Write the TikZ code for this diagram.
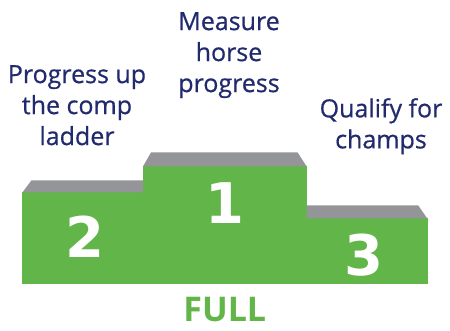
\documentclass[tikz,border=0pt]{standalone}
\usepackage{fontspec}
\setmainfont{Open Sans}
\newfontfamily\goalfont[FakeBold=0.6]{Open Sans}
\newfontfamily\digitfont{DejaVu Sans}
\usepackage{tikz}
\usetikzlibrary{positioning}
\definecolor{podiumgreen}{HTML}{62B548}
\definecolor{podiumgrey}{HTML}{939598}
\definecolor{labelnavy}{HTML}{222A6E}

\begin{document}
\begin{tikzpicture}[x=1pt, y=1pt,
podium/.style={rectangle, fill=podiumgreen, draw=podiumgreen, line width=0.6pt, inner sep=0pt, anchor=south west},
topface/.style={fill=podiumgrey},
placenum/.style={text=white, font=\digitfont\bfseries\fontsize{56}{56}\selectfont},
goal/.style={text=labelnavy, align=center, inner sep=0pt, anchor=north, font=\goalfont\fontsize{25}{31}\selectfont},
]
\useasboundingbox (0,0) rectangle (450,330);

%Nodes
\node[podium, minimum width=163pt, minimum height=117pt] (first) at (143,46) {};
\node[podium, minimum width=120pt, minimum height=91pt, anchor=south east] (second) at (first.south west) {};
\node[podium, minimum width=120pt, minimum height=65pt] (third) at (first.south east) {};

%Tops
\fill[topface] (second.north west) -- ++(9,12) -- ([yshift=12pt]second.north east) -- (second.north east) -- cycle;
\fill[topface] (first.north west) -- ++(8,14) -- ([xshift=-9pt, yshift=14pt]first.north east) -- (first.north east) -- cycle;
\fill[topface] (third.north west) -- ++(0,13) -- ([xshift=-9pt, yshift=13pt]third.north east) -- (third.north east) -- cycle;

%Places
\node[placenum] (one)   at ([yshift=22pt]first.center) {1};
\node[placenum] (two)   at ([xshift=2pt, yshift=1pt]second.center) {2};
\node[placenum] (three) at ([xshift=-3pt, yshift=-4pt]third.center) {3};

%Labels
\node[goal] (measure)  at (229,318) {Measure\\horse\\progress};
\node[goal] (progress) at (77,265) {Progress up\\the comp\\ladder};
\node[goal] (qualify)  at (381,232) {Qualify for\\champs};
\node[text=podiumgreen, font=\bfseries\fontsize{34}{34}\selectfont] (full) [below=10pt of first.south] {FULL};
\end{tikzpicture}
\end{document}
